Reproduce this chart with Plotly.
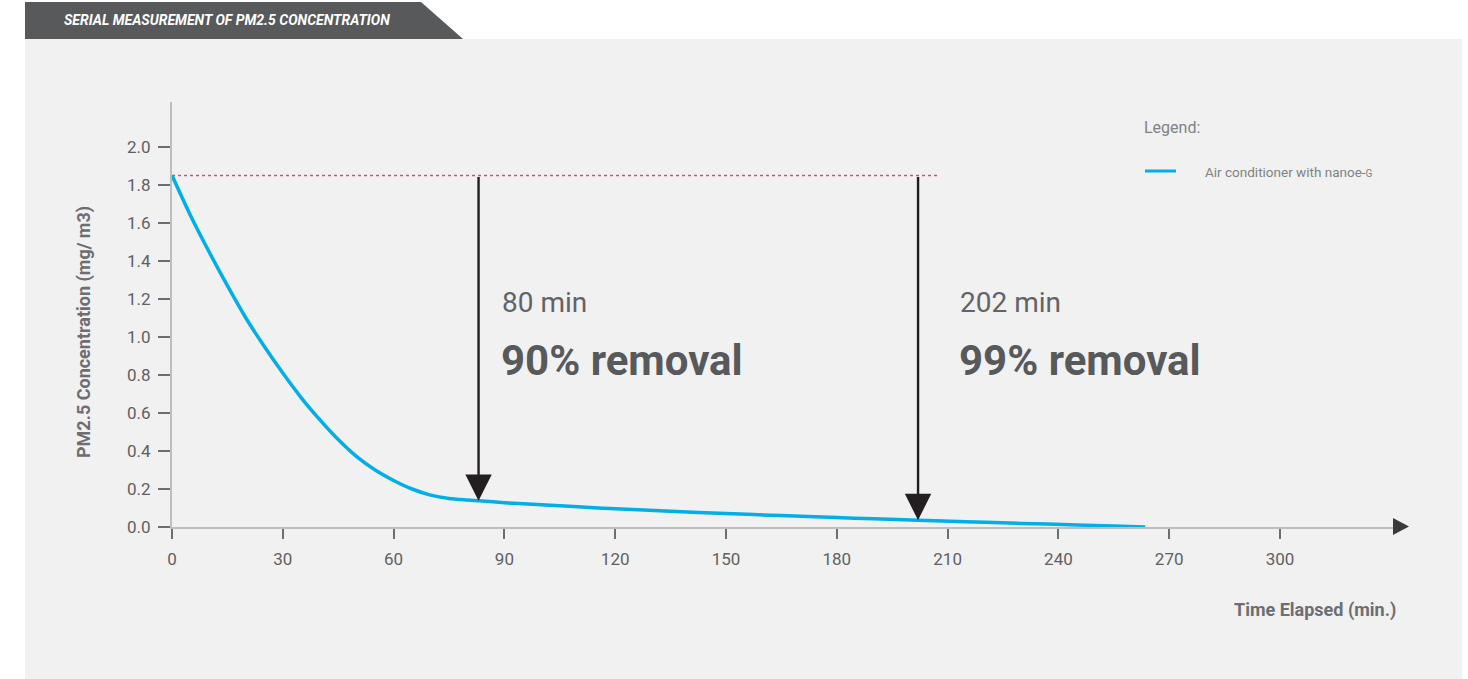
import plotly.graph_objects as go

# ---------------- data ----------------
time_min = [0, 5, 10, 15, 20, 25, 30, 35, 40, 45, 50, 55, 60, 65, 70, 75, 80, 83,
            90, 100, 110, 120, 135, 150, 165, 180, 190, 202, 215, 230, 245, 255, 263.5]
pm25 = [1.85, 1.64, 1.45, 1.27, 1.10, 0.95, 0.81, 0.68, 0.565, 0.46, 0.37, 0.30, 0.245, 0.20, 0.168, 0.150, 0.142, 0.138,
        0.128, 0.117, 0.106, 0.096, 0.083, 0.071, 0.060, 0.050, 0.043, 0.036, 0.028, 0.019, 0.011, 0.005, 0.0]

start_level = 1.85
ref_line_x = [0, 207.5]
marker_times = [83, 202]
marker_values = [0.138, 0.036]
marker_time_labels = ["80 min", "202 min"]
marker_removal_labels = ["90% removal", "99% removal"]

x_ticks = [0, 30, 60, 90, 120, 150, 180, 210, 240, 270, 300]
y_ticks = [0.0, 0.2, 0.4, 0.6, 0.8, 1.0, 1.2, 1.4, 1.6, 1.8, 2.0]

series_name = "Air conditioner with nanoe-<span style='font-size:10px'>G</span>"
title_text = "SERIAL MEASUREMENT OF PM2.5 CONCENTRATION"

# ---------------- layout helpers ----------------
W, H = 1468, 679
PX_L, PX_R, PX_T, PX_B = 172, 1394, 102, 527


def px(xp):
    return xp / W


def py(yp):
    return 1 - yp / H


FONT = "Roboto, Liberation Sans, sans-serif"
BLUE = "#00aee8"
GREY_TXT = "#5f6062"

fig = go.Figure()

# dotted reference level
fig.add_trace(go.Scatter(
    x=ref_line_x, y=[start_level, start_level], mode="lines",
    line=dict(color="#b45c8a", width=1.5, dash="dot"),
    hoverinfo="skip", showlegend=False))

# main curve
fig.add_trace(go.Scatter(
    x=time_min, y=pm25, mode="lines", name=series_name,
    line=dict(color=BLUE, width=3.5, shape="spline", smoothing=0.8),
    showlegend=False))

annotations = []
# vertical arrows
for t, v in zip(marker_times, marker_values):
    annotations.append(dict(
        x=t, y=v, ax=t, ay=start_level, xref="x", yref="y", axref="x", ayref="y",
        text="", showarrow=True, arrowhead=2, arrowsize=2.2, arrowwidth=2.4,
        arrowcolor="#231f20", standoff=0, startstandoff=0))

# texts beside arrows
text_x = [502, 960]
for xp, tl, rl in zip(text_x, marker_time_labels, marker_removal_labels):
    annotations.append(dict(
        x=px(xp - 2), y=py(302), xref="paper", yref="paper", xanchor="left", yanchor="middle",
        text=tl, showarrow=False, font=dict(family=FONT, size=28, color="#626366")))
    annotations.append(dict(
        x=px(xp - 3), y=py(360), xref="paper", yref="paper", xanchor="left", yanchor="middle",
        text="<b>" + rl + "</b>", showarrow=False, font=dict(family=FONT, size=42, color="#58595b")))

# header title
annotations.append(dict(
    x=px(62), y=py(20), xref="paper", yref="paper", xanchor="left", yanchor="middle",
    text="<b><i>" + title_text + "</i></b>", showarrow=False,
    font=dict(family=FONT, size=14, color="white")))

# axis titles
annotations.append(dict(
    x=px(84), y=py(332), xref="paper", yref="paper", xanchor="center", yanchor="middle",
    text="<b>PM2.5 Concentration (mg/ m3)</b>", textangle=-90, showarrow=False,
    font=dict(family=FONT, size=18, color="#6d6e71")))
annotations.append(dict(
    x=px(1398), y=py(610), xref="paper", yref="paper", xanchor="right", yanchor="middle",
    text="<b>Time Elapsed (min.)</b>", showarrow=False,
    font=dict(family=FONT, size=18, color="#6d6e71")))

# legend
annotations.append(dict(
    x=px(1142), y=py(127), xref="paper", yref="paper", xanchor="left", yanchor="middle",
    text="Legend:", showarrow=False, font=dict(family=FONT, size=16, color="#808285")))
annotations.append(dict(
    x=px(1203), y=py(172), xref="paper", yref="paper", xanchor="left", yanchor="middle",
    text=series_name, showarrow=False, font=dict(family=FONT, size=13.5, color="#808285")))

shapes = [
    # grey panel (runs to the bottom edge)
    dict(type="rect", xref="paper", yref="paper", x0=px(25), x1=px(1462), y0=py(700), y1=py(39),
         fillcolor="#f1f1f1", line=dict(width=0), layer="below"),
    # header tab
    dict(type="path", xref="paper", yref="paper",
         path=f"M {px(25)},{py(2)} L {px(421)},{py(2)} L {px(463)},{py(39)} L {px(25)},{py(39)} Z",
         fillcolor="#58595b", line=dict(width=0), layer="below"),
    # x-axis arrow head
    dict(type="path", xref="paper", yref="paper",
         path=f"M {px(1393)},{py(518)} L {px(1409)},{py(526.5)} L {px(1393)},{py(535)} Z",
         fillcolor="#3a3a3c", line=dict(width=0)),
    # legend swatch
    dict(type="line", xref="paper", yref="paper", x0=px(1145), x1=px(1176), y0=py(171), y1=py(171),
         line=dict(color=BLUE, width=3)),
]

x_max = (PX_R - PX_L) / ((1280 - PX_L) / 300)
y_max = (PX_B - PX_T) / ((PX_B - 147) / 2.0)

fig.update_layout(
    width=W, height=H, margin=dict(l=0, r=0, t=0, b=0, pad=0, autoexpand=False),
    paper_bgcolor="white", plot_bgcolor="rgba(0,0,0,0)",
    annotations=annotations, shapes=shapes, showlegend=False,
    xaxis=dict(domain=[px(PX_L), px(PX_R)], range=[0, x_max], tickvals=x_ticks, automargin=False,
               ticktext=[str(v) for v in x_ticks], showgrid=False, zeroline=False,
               showline=True, linecolor="#bcbec0", linewidth=2,
               ticks="outside", ticklen=10, tickwidth=1.5, tickcolor="#6d6e71",
               tickfont=dict(family=FONT, size=17, color=GREY_TXT), ticklabelstandoff=6),
    yaxis=dict(domain=[py(PX_B), py(PX_T)], range=[0, y_max], tickvals=y_ticks, automargin=False,
               ticktext=[f"{v:.1f}" for v in y_ticks], showgrid=False, zeroline=False,
               showline=True, linecolor="#bcbec0", linewidth=2,
               ticks="outside", ticklen=12, tickwidth=1.5, tickcolor="#6d6e71",
               tickfont=dict(family=FONT, size=17, color=GREY_TXT), ticklabelstandoff=4),
)

fig.write_html(
    "out.html",
    config={"displayModeBar": False},
    post_script=("var gd=document.getElementById('{plot_id}');"
                 "gd.style.position='fixed';gd.style.left='0px';gd.style.top='0px';"
                 "document.body.style.margin='0px';"
                 "document.body.style.overflow='hidden';"
                 "document.documentElement.style.overflow='hidden';"),
)
